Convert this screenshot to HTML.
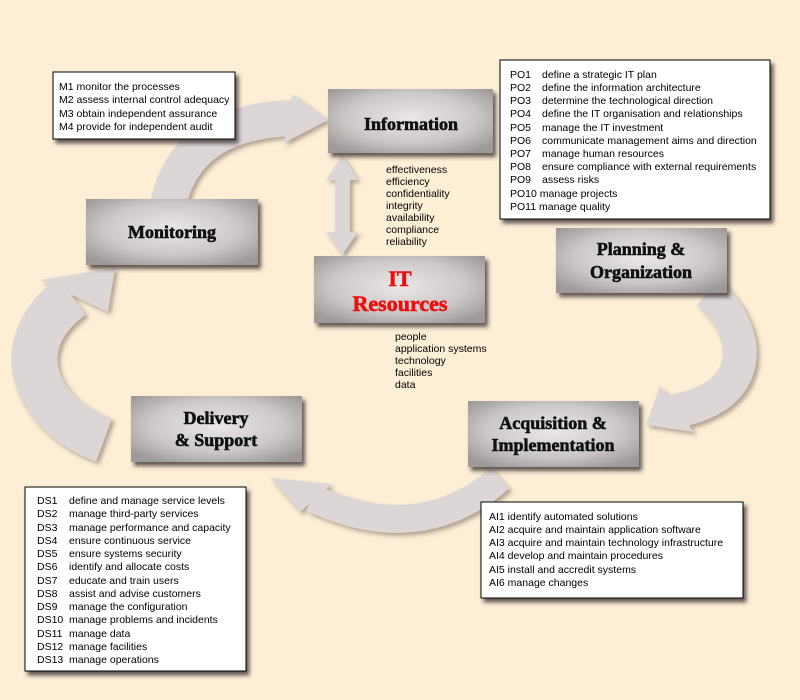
<!DOCTYPE html>
<html><head><meta charset="utf-8"><style>
html,body{margin:0;padding:0;background:#fcefd6;}
svg{display:block}
.t{font-family:"Liberation Sans",sans-serif;font-size:10.5px;fill:#000}
.h{font-family:"Liberation Serif",serif;font-weight:bold;font-size:18px;fill:#111;text-anchor:middle;stroke:#111;stroke-width:0.6}
</style></head><body>
<svg width="800" height="700" viewBox="0 0 800 700" xmlns="http://www.w3.org/2000/svg">
<defs>
<radialGradient id="g" cx="50%" cy="45%" r="65%">
<stop offset="0" stop-color="#ebe7e7"/><stop offset="0.6" stop-color="#cdc8c8"/><stop offset="1" stop-color="#9e9999"/>
</radialGradient>
<filter id="sh" x="-10%" y="-10%" width="130%" height="140%"><feDropShadow dx="3" dy="4" stdDeviation="2" flood-color="#3a3030" flood-opacity="0.8"/></filter>
<filter id="sa" x="-10%" y="-10%" width="130%" height="130%"><feDropShadow dx="3" dy="3" stdDeviation="2" flood-color="#6a5a50" flood-opacity="0.5"/></filter>
</defs>
<rect width="800" height="700" fill="#fcefd6"/>
<g filter="url(#sa)">
<g fill="none" stroke="#dcd6d6">
<path d="M168 205 Q185 122 292 118" stroke-width="36"/>
<path d="M708 292 C752 330 760 400 668 412" stroke-width="34"/>
<path d="M500 478 Q420 548 312 498" stroke-width="28"/>
<path d="M104 440 C35 415 5 345 72 296" stroke-width="46"/>
</g>
<g fill="#dcd6d6">
<polygon points="292,94 328,120 284,143"/>
<polygon points="660,386 646,425 694,432"/>
<polygon points="270,478 332,484 300,512"/>
<polygon points="115,268 40,280 108,312"/>
<rect x="335" y="178" width="15" height="58"/>
<polygon points="342,155 326,180 358,180"/>
<polygon points="342,255 326,232 358,232"/>
</g>
</g>
<g filter="url(#sh)">
<rect x="328" y="89" width="165" height="64" fill="url(#g)"/>
<rect x="314" y="256" width="171" height="67" fill="url(#g)"/>
<rect x="86" y="199" width="172" height="66" fill="url(#g)"/>
<rect x="556" y="228" width="171" height="65" fill="url(#g)"/>
<rect x="468" y="401" width="171" height="66" fill="url(#g)"/>
<rect x="131" y="396" width="171" height="66" fill="url(#g)"/>
<rect x="53" y="72" width="182" height="67" fill="#fff" stroke="#000"/>
<rect x="500" y="60" width="270" height="159" fill="#fff" stroke="#000"/>
<rect x="25" y="487" width="221" height="184" fill="#fff" stroke="#000"/>
<rect x="481" y="502" width="262" height="96" fill="#fff" stroke="#000"/>
</g>
<text class="h" x="411" y="130">Information</text>
<text class="h" x="400" y="286" style="fill:#e81010;stroke:#e81010;font-size:22px">IT</text>
<text class="h" x="400" y="311" style="fill:#e81010;stroke:#e81010;font-size:22px">Resources</text>
<text class="h" x="172" y="238">Monitoring</text>
<text class="h" x="641" y="255">Planning &amp;</text>
<text class="h" x="641" y="278">Organization</text>
<text class="h" x="553" y="429">Acquisition &amp;</text>
<text class="h" x="553" y="451">Implementation</text>
<text class="h" x="216" y="424">Delivery</text>
<text class="h" x="216" y="446">&amp; Support</text>
<g class="t">
<text x="386" y="173">effectiveness</text><text x="386" y="185">efficiency</text><text x="386" y="197">confidentiality</text><text x="386" y="209">integrity</text><text x="386" y="221">availability</text><text x="386" y="233">compliance</text><text x="386" y="245">reliability</text>
<text x="395" y="340">people</text><text x="395" y="352">application systems</text><text x="395" y="364">technology</text><text x="395" y="376">facilities</text><text x="395" y="388">data</text>
<text x="59" y="90">M1 monitor the processes</text><text x="59" y="103">M2 assess internal control adequacy</text><text x="59" y="117">M3 obtain independent assurance</text><text x="59" y="130">M4 provide for independent audit</text>
</g>
<g class="t">
<text x="510" y="78">PO1</text><text x="542" y="78">define a strategic IT plan</text>
<text x="510" y="91">PO2</text><text x="542" y="91">define the information architecture</text>
<text x="510" y="104">PO3</text><text x="542" y="104">determine the technological direction</text>
<text x="510" y="117">PO4</text><text x="542" y="117">define the IT organisation and relationships</text>
<text x="510" y="131">PO5</text><text x="542" y="131">manage the IT investment</text>
<text x="510" y="144">PO6</text><text x="542" y="144">communicate management aims and direction</text>
<text x="510" y="157">PO7</text><text x="542" y="157">manage human resources</text>
<text x="510" y="170">PO8</text><text x="542" y="170">ensure compliance with external requirements</text>
<text x="510" y="183">PO9</text><text x="542" y="183">assess risks</text>
<text x="510" y="197">PO10 manage projects</text>
<text x="510" y="210">PO11 manage quality</text>
</g>
<g class="t">
<text x="37" y="504">DS1</text><text x="69" y="504">define and manage service levels</text>
<text x="37" y="517">DS2</text><text x="69" y="517">manage third-party services</text>
<text x="37" y="531">DS3</text><text x="69" y="531">manage performance and capacity</text>
<text x="37" y="544">DS4</text><text x="69" y="544">ensure continuous service</text>
<text x="37" y="557">DS5</text><text x="69" y="557">ensure systems security</text>
<text x="37" y="570">DS6</text><text x="69" y="570">identify and allocate costs</text>
<text x="37" y="584">DS7</text><text x="69" y="584">educate and train users</text>
<text x="37" y="597">DS8</text><text x="69" y="597">assist and advise customers</text>
<text x="37" y="610">DS9</text><text x="69" y="610">manage the configuration</text>
<text x="37" y="623">DS10</text><text x="69" y="623">manage problems and incidents</text>
<text x="37" y="637">DS11</text><text x="69" y="637">manage data</text>
<text x="37" y="650">DS12</text><text x="69" y="650">manage facilities</text>
<text x="37" y="663">DS13</text><text x="69" y="663">manage operations</text>
</g>
<g class="t">
<text x="489" y="520">AI1 identify automated solutions</text>
<text x="489" y="533">AI2 acquire and maintain application software</text>
<text x="489" y="546">AI3 acquire and maintain technology infrastructure</text>
<text x="489" y="559">AI4 develop and maintain procedures</text>
<text x="489" y="573">AI5 install and accredit systems</text>
<text x="489" y="586">AI6 manage changes</text>
</g>
</svg>
</body></html>
